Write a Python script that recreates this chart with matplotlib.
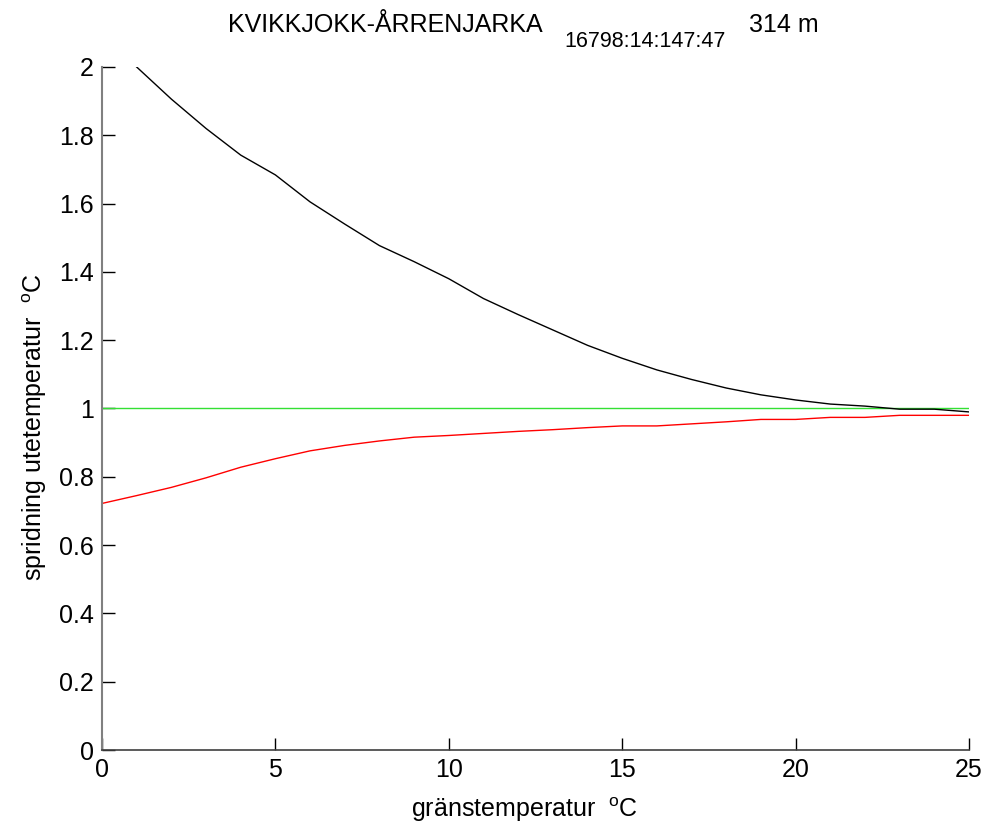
import matplotlib
matplotlib.use("Agg")
import matplotlib.pyplot as plt
import numpy as np

plt.rcParams['font.family'] = ['Liberation Sans', 'DejaVu Sans']
plt.rcParams['mathtext.fontset'] = 'custom'
plt.rcParams['mathtext.rm'] = 'Liberation Sans'
plt.rcParams['mathtext.it'] = 'Liberation Sans'

# data
x_black = list(range(1, 26))
y_black = [2.0, 1.906, 1.82, 1.742, 1.684, 1.605, 1.54, 1.477, 1.43, 1.38,
           1.322, 1.275, 1.23, 1.185, 1.147, 1.113, 1.085, 1.06, 1.04, 1.025,
           1.013, 1.007, 0.998, 0.998, 0.99]
x_red = list(range(0, 26))
y_red = [0.722, 0.745, 0.769, 0.797, 0.828, 0.853, 0.876, 0.892, 0.905, 0.916,
         0.921, 0.927, 0.933, 0.938, 0.944, 0.949, 0.949, 0.955, 0.961, 0.968,
         0.968, 0.974, 0.974, 0.980, 0.980, 0.980]
x_green = [0, 25]
y_green = [1.0, 1.0]
xticks = [0, 5, 10, 15, 20, 25]
yticks = [0, 0.2, 0.4, 0.6, 0.8, 1.0, 1.2, 1.4, 1.6, 1.8, 2.0]
yticklabels = ['0', '0.2', '0.4', '0.6', '0.8', '1', '1.2', '1.4', '1.6', '1.8', '2']

W, H = 987, 830
fig = plt.figure(figsize=(W / 100, H / 100), dpi=100)
ax = fig.add_axes([102 / W, 1 - 750 / H, (969 - 102) / W, (750 - 67) / H])

ax.plot(x_green, y_green, color='#33e033', lw=1.0)
ax.plot(x_red, y_red, color='#ff0000', lw=1.0)
ax.plot(x_black, y_black, color='#000000', lw=1.0)

ax.set_xlim(0, 25)
ax.set_ylim(0, 2)
ax.set_xticks(xticks)
ax.set_xticklabels([str(t) for t in xticks])
ax.set_yticks(yticks)
ax.set_yticklabels(yticklabels)
ax.tick_params(direction='in', length=9, width=1, labelsize=18, pad=6, colors='black')
ax.spines['top'].set_visible(False)
ax.spines['right'].set_visible(False)
ax.spines['left'].set_color('#808080')
ax.spines['left'].set_linewidth(1.5)
ax.spines['bottom'].set_color('#404040')
ax.spines['bottom'].set_linewidth(1.2)

fig.text(525 / W, 1 - 810 / H, r'gränstemperatur  $^{\mathrm{o}}$C',
         ha='center', va='center', fontsize=18)
fig.text(35 / W, 1 - 427 / H, r'spridning utetemperatur  $^{\mathrm{o}}$C',
         ha='center', va='center', rotation=90, fontsize=18)

fig.text(228 / W, 1 - 32 / H, 'KVIKKJOKK-ÅRRENJARKA', ha='left', va='baseline', fontsize=18)
fig.text(564 / W, 1 - 47 / H, '16798:14:147:47', ha='left', va='baseline', fontsize=15.5)
fig.text(749 / W, 1 - 32 / H, '314 m', ha='left', va='baseline', fontsize=18)

fig.savefig('out.png', dpi=100)
